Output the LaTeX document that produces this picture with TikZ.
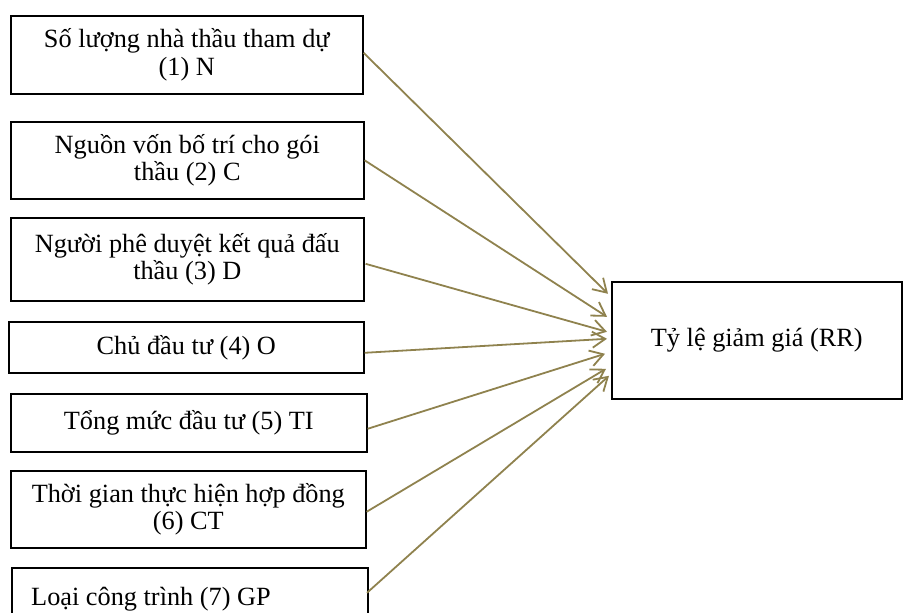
\documentclass[tikz,border=0pt]{standalone}
\usepackage{fontspec}
\setmainfont{Liberation Serif}
\usetikzlibrary{arrows.meta,calc}
\definecolor{arrcol}{RGB}{143,130,78}
\begin{document}
\begin{tikzpicture}[x=1pt,y=-1pt,
  box/.style={draw=black,line width=1.6pt,rectangle,inner sep=0pt,anchor=north west,align=center,
    font=\fontsize{26.3}{27.5}\selectfont},
  conn/.style={draw=arrcol,line width=1.8pt,-{Straight Barb[length=13pt,width=16pt,line width=1.8pt]}}]
\useasboundingbox (0,0) rectangle (903,613);
\clip (0,0) rectangle (903,613);
\node[box,minimum width=352,minimum height=78] (b1) at (10,15) {Số lượng nhà thầu tham dự\\(1) N};
\node[box,minimum width=353,minimum height=77] (b2) at (10,121) {Nguồn vốn bố trí cho gói\\thầu (2) C};
\node[box,minimum width=353,minimum height=83] (b3) at (10,217) {Người phê duyệt kết quả đấu\\thầu (3) D};
\node[box,minimum width=355,minimum height=51] (b4) at (8,321) {Chủ đầu tư (4) O};
\node[box,minimum width=356,minimum height=58] (b5) at (10,393) {Tổng mức đầu tư (5) TI};
\node[box,minimum width=355,minimum height=77] (b6) at (10,470) {Thời gian thực hiện hợp đồng\\(6) CT};
\node[box,minimum width=356,minimum height=60] (b7) at (11,567) {};
\node[anchor=base west,inner sep=0pt,font=\fontsize{26.3}{27.5}\selectfont] (t7) at (31,605) {Loại công trình (7) GP};
\node[box,minimum width=290,minimum height=117] (rr) at (611,281) {Tỷ lệ giảm giá (RR)};
% start points
\coordinate (s1) at ($(b1.east)+(0,-2)$);
\coordinate (s2) at ($(b2.east)+(0,0)$);
\coordinate (s3) at ($(b3.east)+(1,4.5)$);
\coordinate (s4) at ($(b4.east)+(0,5.5)$);
\coordinate (s5) at ($(b5.east)+(0,6)$);
\coordinate (s6) at ($(b6.east)+(0,2.5)$);
\coordinate (s7) at ($(b7.west)+(356,-5)$);
% tips
\coordinate (e1) at ($(rr.west)+(-3,-46.5)$);
\coordinate (e2) at ($(rr.west)+(-4,-23.5)$);
\coordinate (e3) at ($(rr.west)+(-4,-8.5)$);
\coordinate (e4) at ($(rr.west)+(-4,-1.5)$);
\coordinate (e5) at ($(rr.west)+(-6,13.5)$);
\coordinate (e6) at ($(rr.west)+(-5,28.5)$);
\coordinate (e7) at ($(rr.west)+(-2,35.5)$);
\foreach \i in {1,...,7} {\draw[conn] (s\i) -- (e\i);}
\end{tikzpicture}
\end{document}
